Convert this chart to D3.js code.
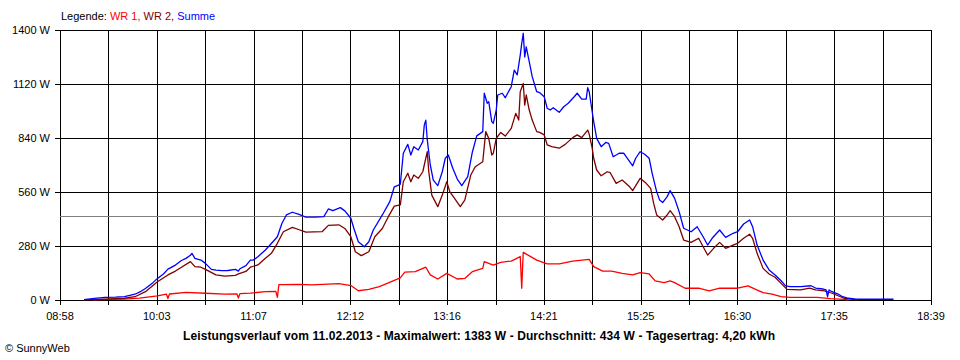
<!DOCTYPE html>
<html><head><meta charset="utf-8">
<script src="https://cdn.jsdelivr.net/npm/d3@7"></script>
<style>
body{margin:0;background:#fff;}
svg{display:block;font-family:"Liberation Sans",Arial,sans-serif;}
</style></head>
<body><svg id="c" width="960" height="360"></svg>
<script>
// ---- data ----
const xTickLabels = ["08:58","10:03","11:07","12:12","13:16","14:21","15:25","16:30","17:35","18:39"];
const yTicks = [0,280,560,840,1120,1400];
const average = 434;
const legendItems = ["WR 1","WR 2","Summe"];
const titleText = "Leistungsverlauf vom 11.02.2013 - Maximalwert: 1383 W - Durchschnitt: 434 W - Tagesertrag: 4,20 kWh";

const wr1 = [["09:20",1],["09:30",3],["09:41",5],["09:51",10],["10:03",21],["10:09",30],["10:10",8],["10:11",31],["10:22",40],["10:35",35],["10:48",30],["10:56",32],["10:57",10],["10:58",33],["11:05",36],["11:15",43],["11:22",45],["11:23",14],["11:24",80],["11:38",81],["11:46",78],["12:04",85],["12:12",75],["12:17",48],["12:24",55],["12:31",69],["12:39",95],["12:45",115],["12:48",145],["12:55",147],["13:02",170],["13:05",130],["13:10",109],["13:16",138],["13:23",109],["13:28",112],["13:33",147],["13:40",164],["13:41",199],["13:47",181],["13:52",195],["13:59",202],["14:05",225],["14:06",61],["14:07",247],["14:12",225],["14:16",207],["14:23",187],["14:31",187],["14:40",202],["14:51",211],["14:54",173],["15:00",150],["15:06",150],["15:13",138],["15:20",130],["15:25",142],["15:31",135],["15:35",99],["15:41",90],["15:45",99],["15:48",90],["15:55",61],["16:04",61],["16:11",47],["16:18",61],["16:30",61],["16:37",73],["16:42",55],["16:47",38],["16:53",31],["16:59",17],["17:05",14],["17:23",14],["17:32",7],["17:41",3],["17:44",0]];

const wr2 = [["09:14",1],["09:28",5],["09:41",9],["09:48",17],["09:55",43],["10:00",75],["10:03",95],["10:10",130],["10:15",150],["10:19",170],["10:25",199],["10:28",173],["10:32",170],["10:35",159],["10:42",130],["10:48",124],["10:55",128],["10:57",135],["11:02",148],["11:05",170],["11:07",175],["11:10",182],["11:15",216],["11:19",242],["11:23",294],["11:27",354],["11:33",377],["11:38",363],["11:42",352],["11:53",355],["11:57",387],["12:04",390],["12:08",371],["12:12",328],["12:15",250],["12:19",230],["12:24",250],["12:28",328],["12:33",371],["12:37",432],["12:41",487],["12:45",493],["12:47",613],["12:50",657],["12:52",613],["12:54",648],["12:57",631],["13:00",665],["13:02",735],["13:03",769],["13:04",665],["13:06",544],["13:10",484],["13:13",544],["13:16",613],["13:18",562],["13:22",518],["13:25",484],["13:28",518],["13:32",648],["13:35",691],["13:40",717],["13:42",873],["13:44",838],["13:46",752],["13:47",760],["13:49",838],["13:52",869],["13:55",850],["13:59",890],["14:02",968],["14:04",933],["14:05",1080],["14:07",1123],["14:08",1010],["14:09",1063],["14:11",985],["14:13",933],["14:16",873],["14:18",869],["14:21",856],["14:23",804],["14:26",795],["14:31",787],["14:35",807],["14:40",842],["14:43",856],["14:46",842],["14:50",881],["14:51",860],["14:53",787],["14:54",735],["14:56",674],["14:59",644],["15:03",665],["15:05",660],["15:09",605],["15:13",622],["15:18",587],["15:20",567],["15:25",631],["15:29",605],["15:32",579],["15:34",501],["15:36",441],["15:40",415],["15:43",441],["15:45",463],["15:48",432],["15:51",380],["15:54",311],["15:59",299],["16:04",320],["16:07",276],["16:10",233],["16:14",268],["16:18",299],["16:22",268],["16:27",285],["16:30",294],["16:34",320],["16:38",341],["16:40",320],["16:43",242],["16:47",164],["16:51",135],["16:55",118],["16:59",86],["17:03",55],["17:12",52],["17:18",61],["17:22",52],["17:28",47],["17:33",35],["17:37",22],["17:41",9],["17:47",3],["17:50",0]];

const summe = [["09:14",2],["09:21",8],["09:28",14],["09:35",15],["09:41",17],["09:48",30],["09:52",45],["09:55",60],["10:00",90],["10:03",112],["10:07",135],["10:10",160],["10:15",181],["10:19",205],["10:22",216],["10:25",232],["10:26",242],["10:28",216],["10:32",207],["10:35",190],["10:39",159],["10:42",155],["10:46",152],["10:50",153],["10:55",159],["10:57",150],["10:58",162],["11:02",178],["11:05",207],["11:07",207],["11:10",224],["11:15",259],["11:19",293],["11:23",328],["11:26",397],["11:29",441],["11:33",455],["11:37",445],["11:42",430],["11:48",430],["11:54",432],["11:57",472],["12:00",463],["12:05",479],["12:08",462],["12:12",424],["12:14",372],["12:17",302],["12:21",276],["12:24",302],["12:27",363],["12:33",441],["12:38",510],["12:41",587],["12:45",600],["12:47",761],["12:50",807],["12:52",752],["12:54",795],["12:57",778],["13:00",821],["13:01",907],["13:02",933],["13:03",830],["13:05",700],["13:07",622],["13:10",593],["13:13",665],["13:15",735],["13:17",752],["13:20",683],["13:23",627],["13:26",593],["13:30",640],["13:33",765],["13:36",851],["13:40",873],["13:41",1072],["13:43",1020],["13:44",1028],["13:46",925],["13:47",916],["13:49",985],["13:50",1063],["13:53",1072],["13:55",1049],["13:59",1106],["14:01",1192],["14:03",1167],["14:05",1270],["14:06",1331],["14:07",1383],["14:08",1260],["14:09",1313],["14:11",1236],["14:13",1158],["14:16",1080],["14:18",1075],["14:21",1054],["14:23",994],["14:25",985],["14:27",997],["14:31",973],["14:34",1002],["14:37",1020],["14:41",1054],["14:43",1072],["14:46",1042],["14:49",1042],["14:50",1101],["14:51",1080],["14:53",976],["14:54",925],["14:56",838],["14:59",795],["15:02",817],["15:04",812],["15:07",743],["15:11",761],["15:14",761],["15:18",717],["15:20",696],["15:22",735],["15:25",769],["15:28",756],["15:31",735],["15:33",657],["15:36",562],["15:38",518],["15:40",505],["15:43",536],["15:45",567],["15:48",527],["15:51",458],["15:54",372],["15:59",354],["16:03",380],["16:07",328],["16:10",285],["16:13",320],["16:18",363],["16:22",325],["16:27",346],["16:30",354],["16:34",394],["16:38",415],["16:40",380],["16:43",285],["16:47",207],["16:51",156],["16:55",130],["16:59",100],["17:02",73],["17:05",69],["17:12",69],["17:19",74],["17:22",62],["17:27",57],["17:29",52],["17:30",17],["17:31",52],["17:33",43],["17:37",31],["17:40",17],["17:44",9],["17:49",4],["18:14",4]];

// ---- drawing ----
const toMin = s => { const [h,m] = s.split(":").map(Number); return h*60+m; };
const svg = d3.select("#c");
const x = d3.scaleLinear().domain([toMin(xTickLabels[0]), toMin(xTickLabels[xTickLabels.length-1])]).range([60, 931]);
const y = d3.scaleLinear().domain([0, 1400]).range([300, 30]);
const nGrid = (xTickLabels.length-1)*2;
const gridX = d3.range(nGrid+1).map(i => x.domain()[0] + i*(x.domain()[1]-x.domain()[0])/nGrid);
const cr = v => Math.round(v) + 0.5;

const g = svg.append("g").attr("shape-rendering","crispEdges");
g.selectAll(".vg").data(gridX).join("line")
  .attr("x1", d => cr(x(d))).attr("x2", d => cr(x(d)))
  .attr("y1", y(1400)).attr("y2", 305)
  .attr("stroke","#000").attr("stroke-width",1);
g.selectAll(".hg").data(yTicks).join("line")
  .attr("x1", 55).attr("x2", 931)
  .attr("y1", d => cr(y(d))).attr("y2", d => cr(y(d)))
  .attr("stroke","#000").attr("stroke-width",1);
g.append("line").attr("x1",60).attr("x2",931)
  .attr("y1",cr(y(average))).attr("y2",cr(y(average)))
  .attr("stroke","#808080").attr("stroke-width",1);

svg.selectAll(".yl").data(yTicks).join("text")
  .attr("x",50).attr("y", d => y(d)+4)
  .attr("text-anchor","end").attr("font-size",11).attr("fill","#000")
  .text(d => d + " W");
svg.selectAll(".xl").data(xTickLabels).join("text")
  .attr("x", (d,i) => x(gridX[i*2])).attr("y", 320)
  .attr("text-anchor","middle").attr("font-size",11).attr("fill","#000")
  .text(d => d);

const line = d3.line().x(d => x(toMin(d[0]))).y(d => y(d[1]));
const series = [{data:wr1,color:"#ff0000"},{data:wr2,color:"#800000"},{data:summe,color:"#0000ff"}];
svg.selectAll(".ln").data(series).join("path")
  .attr("d", d => line(d.data)).attr("fill","none")
  .attr("stroke", d => d.color).attr("stroke-width",1.3).attr("stroke-linejoin","round");

const colors = ["#ff0000","#800000","#0000ff"];
const lt = svg.append("text").attr("x",61).attr("y",20).attr("font-size",11);
lt.append("tspan").attr("fill","#000").text("Legende: ");
legendItems.forEach((s,i) => lt.append("tspan").attr("fill",colors[i]).text(s + (i < legendItems.length-1 ? ", " : "")));

svg.append("text").attr("x",183).attr("y",340).attr("font-size",12).attr("font-weight","bold")
  .attr("fill","#000").attr("textLength",592).attr("lengthAdjust","spacing").text(titleText);
svg.append("text").attr("x",5).attr("y",352).attr("font-size",11).attr("fill","#000").text("© SunnyWeb");
</script></body></html>
